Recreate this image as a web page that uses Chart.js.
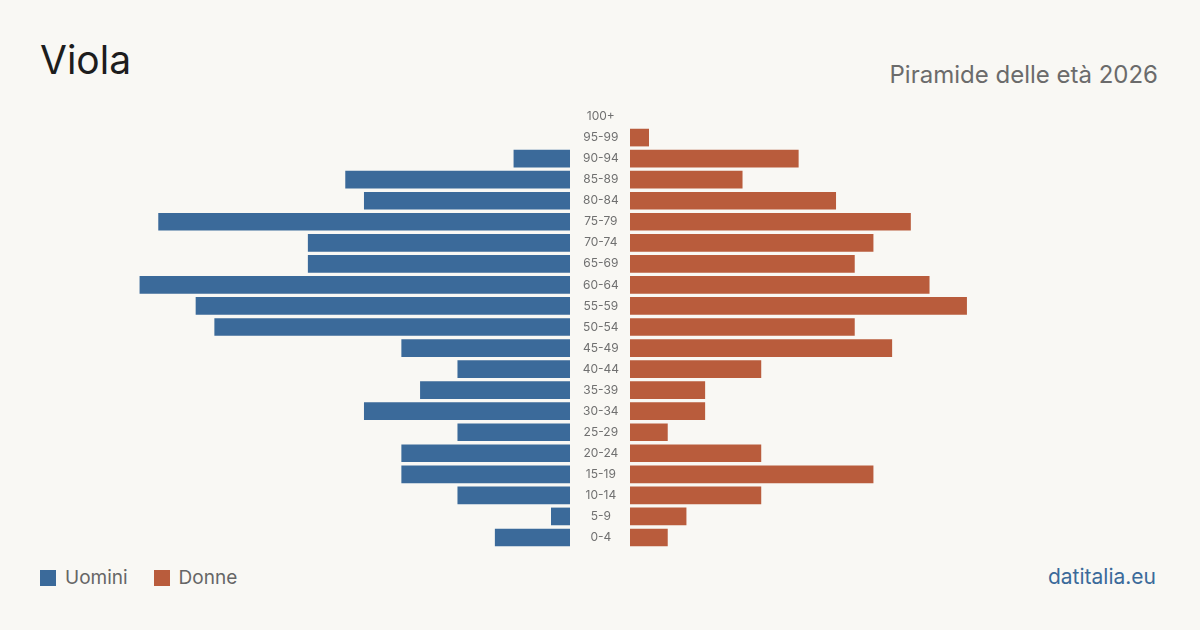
<!DOCTYPE html>
<html>
<head>
<meta charset="utf-8">
<script src="https://cdn.jsdelivr.net/npm/chart.js@4.4.1/dist/chart.umd.min.js"></script>
<style>
  html, body { margin:0; padding:0; background:#f9f8f4; }
  body { width:1200px; height:630px; position:relative; overflow:hidden; font-family: Inter, "Noto Sans", sans-serif; }
  #title { position:absolute; left:40px; top:40px; font-size:39px; color:#1d1d1d; line-height:1; }
  #subtitle { position:absolute; right:42px; top:63px; font-size:24px; color:#6b6b6b; line-height:1; }
  #left { position:absolute; left:40px; top:106px; width:530px; height:442px; }
  #right { position:absolute; left:570px; top:106px; width:590px; height:442px; }
  #legend { position:absolute; left:40px; top:566px; font-size:19px; color:#666; display:flex; align-items:center; }
  .sw { display:inline-block; width:16px; height:16px; margin-right:9px; }
  .item { display:flex; align-items:center; margin-right:26px; }
  #brand { position:absolute; right:44px; top:564px; font-size:21px; color:#3b6a9a; }
</style>
</head>
<body>
<div id="title">Viola</div>
<div id="subtitle">Piramide delle età 2026</div>
<div id="left"><canvas id="cl"></canvas></div>
<div id="right"><canvas id="cr"></canvas></div>
<div id="legend">
  <div class="item"><span class="sw" style="background:#3b6a9a"></span>Uomini</div>
  <div class="item"><span class="sw" style="background:#b95c3c"></span>Donne</div>
</div>
<div id="brand">datitalia.eu</div>
<script>
const ageGroups = ["100+","95-99","90-94","85-89","80-84","75-79","70-74","65-69","60-64","55-59","50-54","45-49","40-44","35-39","30-34","25-29","20-24","15-19","10-14","5-9","0-4"];
const men   = [0,0,3,12,11,22,14,14,23,20,19,9,6,8,11,6,9,9,6,1,4];
const women = [0,1,9,6,11,15,13,12,16,18,12,14,7,4,4,2,7,13,7,3,2];

const BLUE = "#3b6a9a", ORANGE = "#b95c3c";
const XMAX = 530/18.7;

const common = {
  responsive:true, maintainAspectRatio:false, animation:false,
  indexAxis:'y',
  plugins:{ legend:{display:false}, tooltip:{enabled:false} },
  layout:{ padding:0 }
};

new Chart(document.getElementById('cl'), {
  type:'bar',
  data:{ labels:ageGroups, datasets:[{ data:men.map(v => v || null), backgroundColor:BLUE, barThickness:17 }] },
  options:{ ...common,
    scales:{
      x:{ display:false, min:0, max:XMAX, reverse:true },
      y:{ display:false }
    }
  }
});

new Chart(document.getElementById('cr'), {
  type:'bar',
  data:{ labels:ageGroups, datasets:[{ data:women.map(v => v || null), backgroundColor:ORANGE, barThickness:17 }] },
  options:{ ...common,
    scales:{
      x:{ display:false, min:0, max:XMAX },
      y:{
        grid:{display:false}, border:{display:false},
        ticks:{ color:'#707070', font:{family:'Inter', size:12}, crossAlign:'center', padding:3 },
        afterFit:(s)=>{ s.width = 60; s.paddingTop = 0; s.paddingBottom = 0; }
      }
    }
  }
});
</script>
</body>
</html>
